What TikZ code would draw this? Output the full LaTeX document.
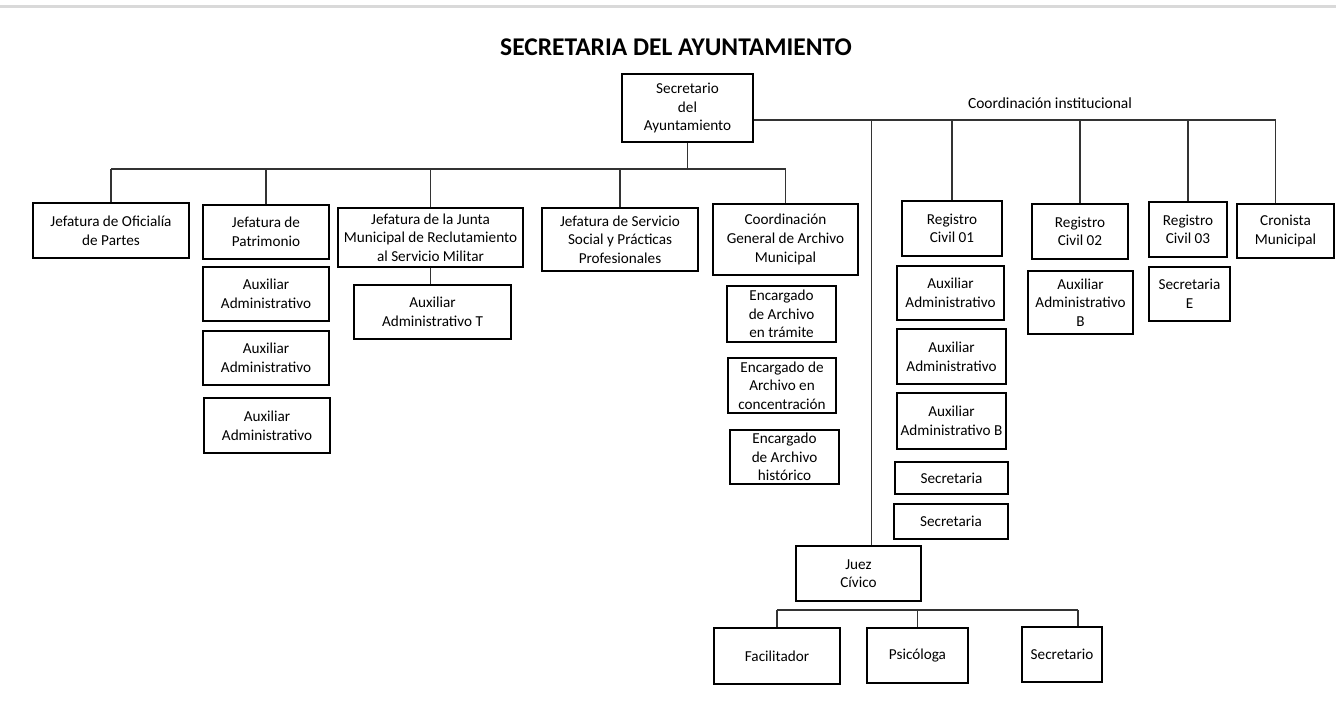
\documentclass[tikz,border=0pt]{standalone}
\usepackage{fontspec}
\setmainfont{Carlito}

\begin{document}
\begin{tikzpicture}
[x=1pt,y=-1pt,%
  boxDecorate/.style={draw,line width=1.2pt,align=center,inner sep=1pt,font=\fontsize{15.2}{18.6}\selectfont},%
  lineDecorate/.style={-,line width=1.1pt,black!80}]
\useasboundingbox (0,0) rectangle (1336,709);
%% header
\draw[line width=3pt,black!15] (0,7) -- (1336,7);
\node (title) at (676,47) {\fontsize{25.5}{30}\selectfont\bfseries SECRETARIA DEL AYUNTAMIENTO};
\node (instLabel) at (1050,103) {\fontsize{15.5}{18}\selectfont Coordinación institucional};
%% boxes
\foreach \nodename/\x/\y/\w/\h/\txt in {
  sec/687.5/108/131/68/{Secretario\\del\\Ayuntamiento},
  ofi/111/230.5/156/55/{Jefatura de Oficialía\\de Partes},
  pat/266/232/126/54/{Jefatura de\\Patrimonio},
  patA/266/294/126/54/{Auxiliar\\Administrativo},
  patB/266/358/126/54/{Auxiliar\\Administrativo},
  patC/267/425.5/126/55/{Auxiliar\\Administrativo},
  jun/430.5/237.5/185/59/{Jefatura de la Junta\\Municipal de Reclutamiento\\al Servicio Militar},
  junA/432.5/312/157/54/{Auxiliar\\Administrativo T},
  soc/620/239.5/156/63/{Jefatura de Servicio\\Social y Prácticas\\Profesionales},
  arc/785.5/239.5/145/71/{Coordinación\\General de Archivo\\Municipal},
  arcA/781.5/314/109/56/{Encargado\\de Archivo\\en trámite},
  arcB/782/385.5/108/55/{Encargado de\\Archivo en\\concentración},
  arcC/784.5/457/109/54/{Encargado\\de Archivo\\histórico},
  rcA/952/228.5/100/55/{Registro\\Civil 01},
  rcAa/950.5/293/107/54/{Auxiliar\\Administrativo},
  rcAb/951.5/356.5/109/55/{Auxiliar\\Administrativo},
  rcAc/951.5/421/109/56/{Auxiliar\\Administrativo B},
  rcAd/951.5/478/113/32/{Secretaria},
  rcAe/951/521.5/114/35/{Secretaria},
  rcB/1080/231.5/96/55/{Registro\\Civil 02},
  rcBa/1080.5/302.5/105/63/{Auxiliar\\Administrativo\\B},
  rcC/1188/229.5/78/55/{Registro\\Civil 03},
  rcCa/1189.5/294/81/54/{Secretaria\\E},
  cro/1285.5/231/97/54/{Cronista\\Municipal},
  juez/858.5/573.5/125/55/{Juez\\Cívico},
  fac/777/656/126/56/{Facilitador},
  psi/917.5/655.5/101/55/{Psicóloga},
  secr/1062/654.5/80/55/{Secretario}}
{
  \node (\nodename) at (\x,\y) [boxDecorate,minimum width=\w,minimum height=\h] {\txt};
}
%% buses
\coordinate (mainBus) at (0,169);
\coordinate (instBus) at (0,120);
\coordinate (juezBus) at (0,610);
\coordinate (juezTop) at ([xshift=13pt]juez.north);
\coordinate (croTop) at ([xshift=-10pt]cro.north);
\coordinate (secrTop) at ([xshift=16pt]secr.north);
%% edges or lines
\draw[lineDecorate] (sec.south) -- (sec.south |- mainBus);
\draw[lineDecorate] (ofi.north |- mainBus) -- (arc.north |- mainBus);
\foreach \endnode in {ofi, pat, jun, soc, arc}
{
  \draw[lineDecorate] (\endnode.north) -- (\endnode.north |- mainBus);
}
\draw[lineDecorate] (jun.south) -- (jun.south |- junA.north);
\draw[lineDecorate] (sec.east |- instBus) -- (croTop |- instBus);
\foreach \endnode in {juezTop, rcA.north, rcB.north, rcC.north, croTop}
{
  \draw[lineDecorate] (\endnode) -- (\endnode |- instBus);
}
\draw[lineDecorate] (fac.north |- juezBus) -- (secrTop |- juezBus);
\foreach \endnode in {fac.north, psi.north, secrTop}
{
  \draw[lineDecorate] (\endnode) -- (\endnode |- juezBus);
}
\end{tikzpicture}
\end{document}
